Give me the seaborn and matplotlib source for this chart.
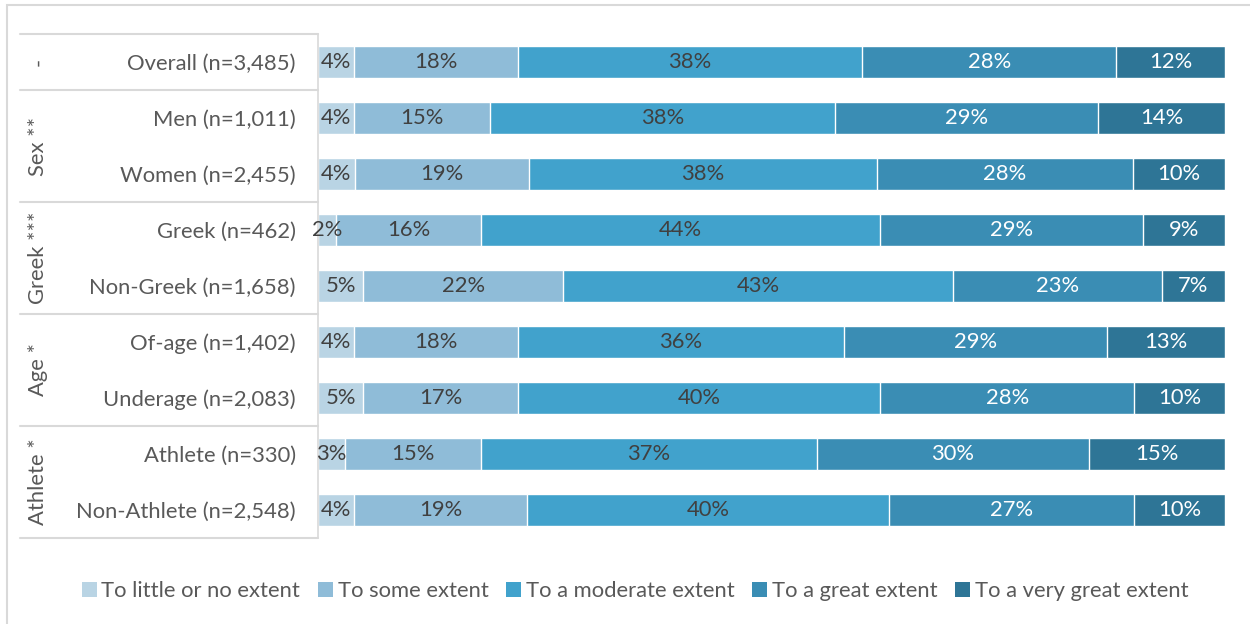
import matplotlib
matplotlib.use("Agg")
import matplotlib.pyplot as plt
import matplotlib.transforms as mtransforms
from matplotlib.patches import Rectangle, Patch
from matplotlib.lines import Line2D
import numpy as np
import pandas as pd
import seaborn as sns

# Survey responses by respondent group (percent of each group)
categories = [
    "Overall (n=3,485)",
    "Men (n=1,011)",
    "Women (n=2,455)",
    "Greek (n=462)",
    "Non-Greek (n=1,658)",
    "Of-age (n=1,402)",
    "Underage (n=2,083)",
    "Athlete (n=330)",
    "Non-Athlete (n=2,548)",
]
little = [4, 4, 4, 2, 5, 4, 5, 3, 4]
some = [18, 15, 19, 16, 22, 18, 17, 15, 19]
moderate = [38, 38, 38, 44, 43, 36, 40, 37, 40]
great = [28, 29, 28, 29, 23, 29, 28, 30, 27]
very_great = [12, 14, 10, 9, 7, 13, 10, 15, 10]

levels = [
    "To little or no extent",
    "To some extent",
    "To a moderate extent",
    "To a great extent",
    "To a very great extent",
]
# Group label, first row, last row
groups = [
    ("-", 0, 0),
    ("Sex **", 1, 2),
    ("Greek ***", 3, 4),
    ("Age *", 5, 6),
    ("Athlete *", 7, 8),
]

colors = ["#b9d4e4", "#8fbcd8", "#41a2cc", "#3a8db4", "#2e7596"]
label_colors = ["#404040", "#404040", "#404040", "#ffffff", "#ffffff"]
text_grey = "#595959"
line_grey = "#d9d9d9"

sns.set_theme(style="white")
plt.rcParams["font.family"] = ["Lato", "DejaVu Sans"]
FS = 15.8

values = np.array([little, some, moderate, great, very_great], dtype=float)
shares = values / values.sum(axis=0) * 100  # 100% stacked
cum = np.cumsum(shares, axis=0)

df = pd.DataFrame({"category": categories})
for i, lv in enumerate(levels):
    df[lv] = cum[i]

fig = plt.figure(figsize=(12.5, 6.24), dpi=100)
ax = fig.add_axes([318 / 1250, 1 - 538 / 624, 907 / 1250, 504 / 624])

# Draw cumulative bars from the outermost level inward so each layer shows its own segment
for i in reversed(range(len(levels))):
    sns.barplot(data=df, y="category", x=levels[i], orient="h", color=colors[i],
                width=0.57, saturation=1, ax=ax, order=categories)

# Percentage labels centred on each segment
for i in range(len(levels)):
    for r in range(len(categories)):
        start = cum[i - 1][r] if i > 0 else 0
        ax.text((start + cum[i][r]) / 2, r, f"{int(values[i][r])}%", ha="center",
                va="center", color=label_colors[i], fontsize=FS)

ax.set_xlim(0, 100)
ax.set_ylim(8.5, -0.5)
ax.set_xlabel("")
ax.set_ylabel("")
ax.set_xticks([])
ax.tick_params(axis="y", length=0, pad=16, labelsize=FS, labelcolor=text_grey)
for s in ["top", "right", "bottom"]:
    ax.spines[s].set_visible(False)
ax.spines["left"].set_color(line_grey)
ax.spines["left"].set_linewidth(1.2)

# Group table lines and rotated group labels
blend = mtransforms.blended_transform_factory(fig.transFigure, ax.transData)
x0, x1 = 20 / 1250, 318 / 1250
bounds = [-0.5] + [g[2] + 0.5 for g in groups]
for b in bounds:
    fig.add_artist(Line2D([x0, x1], [b, b], transform=blend, color=line_grey, lw=1.5))
for name, a, b in groups:
    fig.text(38 / 1250, (a + b) / 2, name, transform=blend, rotation=90, ha="center",
             va="center", fontsize=FS, color=text_grey)

# Outer chart border
fig.add_artist(Rectangle((7 / 1250, -0.05), 1.1, 1 - 5 / 624 + 0.05,
                         transform=fig.transFigure, fill=False, edgecolor=line_grey, lw=1.5))

handles = [Patch(facecolor=c, edgecolor="none") for c in colors]
fig.legend(handles, levels, loc="center", bbox_to_anchor=(0.508, 1 - 591 / 624), ncol=5,
           frameon=False, fontsize=FS, labelcolor=text_grey, handlelength=0.7,
           handleheight=0.7, handletextpad=0.2, columnspacing=0.8)

fig.savefig("out.png", dpi=100, facecolor="white")
